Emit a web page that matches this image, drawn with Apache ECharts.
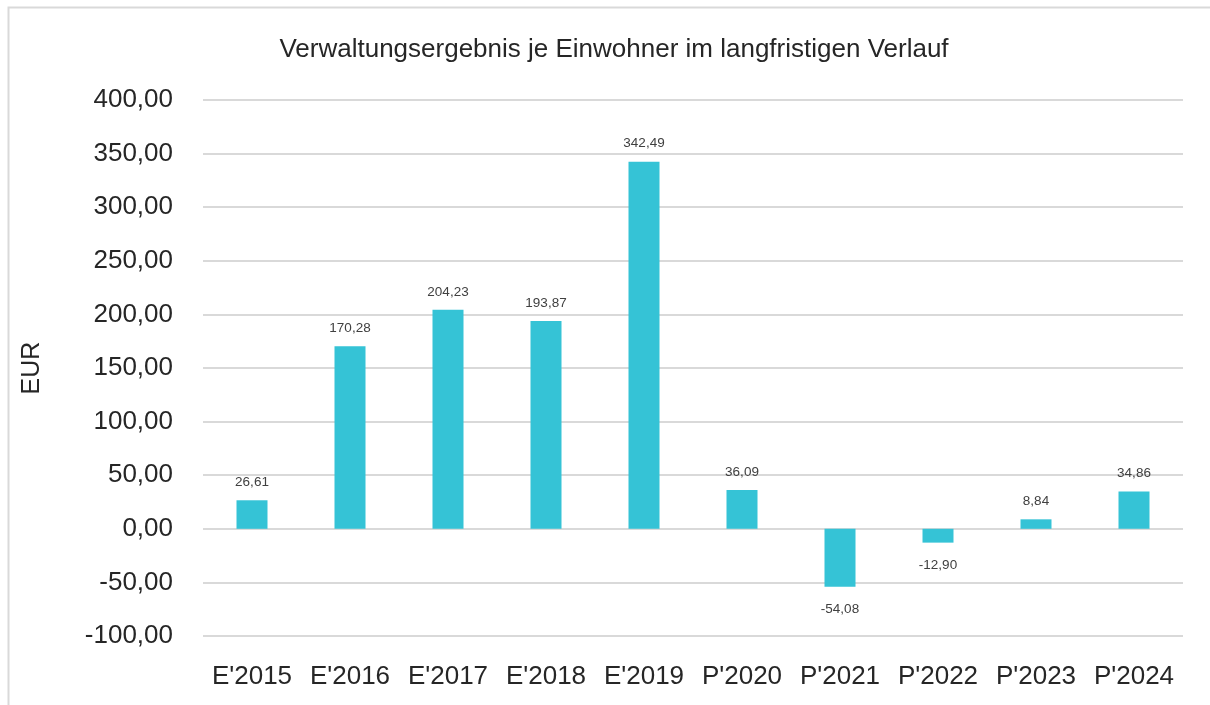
<!DOCTYPE html>
<html>
<head>
<meta charset="utf-8">
<script src="https://cdn.jsdelivr.net/npm/echarts@6/dist/echarts.min.js"></script>
<style>
  html, body { margin: 0; padding: 0; background: #fff; }
  #chart { width: 1210px; height: 705px; }
</style>
</head>
<body>
<div id="chart"></div>
<script>
var categories = ["E'2015", "E'2016", "E'2017", "E'2018", "E'2019", "P'2020", "P'2021", "P'2022", "P'2023", "P'2024"];
var values = [26.61, 170.28, 204.23, 193.87, 342.49, 36.09, -54.08, -12.90, 8.84, 34.86];
var yMin = -100, yMax = 400, yStep = 50;

var font = "'Liberation Sans Narrow', 'Arial Narrow', 'Liberation Sans', sans-serif";

function fmt(v) {
    return v.toFixed(2).replace('.', ',');
}

var myChart = echarts.init(document.getElementById('chart'));

// negative bars carry their labels a little further below the bar
var barData = values.map(function (v) {
    return v < 0 ? { value: v, label: { distance: 16 } } : v;
});

var option = {
    animation: false,
    textStyle: { fontFamily: font },
    title: {
        text: 'Verwaltungsergebnis je Einwohner im langfristigen Verlauf',
        left: 609,
        textAlign: 'center',
        top: 32,
        textStyle: {
            fontFamily: font,
            fontSize: 26,
            fontWeight: 'normal',
            color: '#262626'
        }
    },
    graphic: [{
        type: 'rect',
        silent: true,
        shape: { x: 8.5, y: 7.5, width: 1300, height: 800 },
        style: { fill: 'none', stroke: '#d9d9d9', lineWidth: 2 }
    }],
    grid: {
        left: 203,
        right: 27,
        top: 100,
        bottom: 69
    },
    xAxis: {
        type: 'category',
        data: categories,
        axisLine: { show: false },
        axisTick: { show: false },
        axisLabel: {
            interval: 0,
            margin: 28,
            fontSize: 26,
            color: '#262626',
            fontFamily: font
        }
    },
    yAxis: {
        type: 'value',
        min: yMin,
        max: yMax,
        interval: yStep,
        name: 'EUR',
        nameLocation: 'middle',
        nameGap: 158,
        nameRotate: 90,
        nameTextStyle: { fontSize: 25, color: '#262626', fontFamily: font },
        axisLine: { show: false },
        axisTick: { show: false },
        axisLabel: {
            margin: 30,
            fontSize: 26,
            color: '#262626',
            fontFamily: font,
            formatter: function (v) { return fmt(v); }
        },
        splitLine: {
            lineStyle: { color: '#d9d9d9', width: 2 }
        }
    },
    series: [{
        type: 'bar',
        data: barData,
        barWidth: 31,
        itemStyle: { color: '#35c3d6' },
        label: {
            show: true,
            position: 'outside',
            distance: 11,
            fontSize: 13.5,
            color: '#404040',
            fontFamily: font,
            formatter: function (p) { return fmt(p.value); }
        }
    }]
};

myChart.setOption(option);

window.addEventListener('resize', function () {
    myChart.resize();
});
</script>
</body>
</html>
